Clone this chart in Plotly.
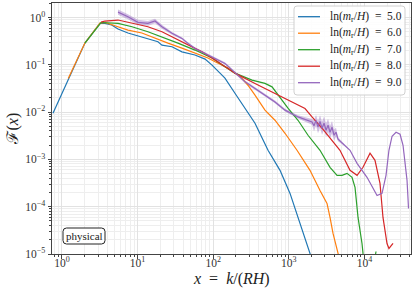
import plotly.graph_objects as go

# ---------------- data ----------------
blue_x = [0.76, 2.01, 3.18, 3.70, 4.54, 5.51, 7.46, 10.1, 13.7, 18.6, 21.0, 28.5, 38.6, 57.4, 78.0, 96.4,
          123, 143, 194, 264, 357, 531, 765, 1038, 1406, 1906, 2090]
blue_y = [0.0095, 0.288, 0.754, 0.754, 0.694, 0.571, 0.470, 0.412, 0.362, 0.307, 0.261, 0.241, 0.188, 0.161,
          0.132, 0.0986, 0.0667, 0.0523, 0.0251, 0.0121, 0.00582, 0.00156, 5.88e-4, 1.91e-4, 4.43e-5, 1.03e-5, 6.6e-6]

orange_x = [1.21, 2.01, 3.18, 3.70, 5.02, 7.46, 11.4, 17.0, 25.2, 38.6, 57.4, 85.3, 106, 157, 240, 288, 357,
            484, 656, 891, 1283, 1906, 2586, 3200, 3507, 3843, 4480, 4700]
orange_y = [0.0515, 0.288, 0.76, 0.791, 0.670, 0.543, 0.470, 0.362, 0.288, 0.226, 0.177, 0.139, 0.116, 0.0852,
            0.0523, 0.037, 0.0228, 0.0110, 0.00673, 0.00357, 0.00156, 5.88e-4, 2.21e-4, 1.17e-4, 5.93e-5,
            2.72e-5, 1.03e-5, 6.6e-6]

green_x = [2.01, 3.28, 5.51, 8.43, 13.7, 21.0, 34.2, 57.4, 96.4, 143, 194, 326, 484, 600, 720, 975, 1324,
           1795, 2586, 3507, 4345, 5055, 5888, 6855, 7513, 8230, 9290, 9580, 10500, 12600, 14230]
green_y = [0.288, 0.784, 0.754, 0.638, 0.500, 0.392, 0.288, 0.205, 0.139, 0.0907, 0.0667, 0.0474, 0.0404,
           0.0342, 0.0228, 0.0121, 0.00673, 0.00324, 0.00156, 6.81e-4, 4.60e-4, 4.60e-4, 5.08e-4, 4.18e-4,
           2.56e-4, 5.93e-5, 1.67e-5, 1.03e-5, 4.9e-6, 3.5e-6, 1.13e-5]

red_x = [3.28, 3.70, 5.51, 8.43, 13.7, 21.0, 31.2, 46.4, 71.1, 106, 143, 194, 357, 656, 1208, 1637, 2027,
         2750, 4750, 6450, 7990, 9580, 11860, 13800, 16070, 17600, 19900, 21100, 23900]
red_y = [0.80, 0.843, 0.885, 0.754, 0.638, 0.500, 0.362, 0.261, 0.188, 0.126, 0.0907, 0.0667, 0.0404, 0.0248,
         0.0152, 0.0119, 0.00791, 0.00456, 0.00156, 5.88e-4, 4.60e-4, 6.81e-4, 1.35e-3, 9.57e-4, 3.12e-4,
         5.93e-5, 1.67e-5, 1.31e-5, 1.67e-5]

purple_x = [5.51, 7.46, 10.1, 13.7, 17.0, 21.0, 28.5, 38.6, 46.4, 57.4, 78.0, 106, 143, 264, 357, 484, 656,
            891, 1324, 2027, 2153, 2290, 2432, 2586, 2750, 2924, 3108, 3304, 3507, 3725, 3963, 4207, 4480,
            6450, 7990, 10820, 12990, 14690, 17100, 19300, 21100, 23200, 26200, 29600, 32400, 34400, 36600,
            37700, 38300]
purple_y = [1.30, 1.04, 0.791, 0.754, 0.843, 0.638, 0.463, 0.362, 0.284, 0.222, 0.174, 0.137, 0.107, 0.0436,
            0.0316, 0.0228, 0.0164, 0.0110, 0.00791, 0.00620, 5.15e-3, 6.70e-3, 4.83e-3, 6.32e-3, 4.56e-3,
            5.82e-3, 4.14e-3, 5.27e-3, 3.75e-3, 4.79e-3, 3.24e-3, 3.75e-3, 2.67e-3, 1.56e-3, 8.27e-4,
            4.18e-4, 2.56e-4, 1.73e-4, 1.91e-4, 4.6e-4, 1.56e-3, 3.09e-3, 3.75e-3, 3.40e-3, 1.99e-3,
            9.57e-4, 3.61e-4, 1.50e-4, 9.2e-5]
# multiplicative half-width of the shaded uncertainty band around the purple curve
purple_err = [1.13, 1.13, 1.13, 1.12, 1.12, 1.10, 1.07, 1.06, 1.06, 1.06, 1.06, 1.06, 1.06, 1.07, 1.07, 1.07,
              1.07, 1.07, 1.08, 1.15, 1.30, 1.30, 1.35, 1.35, 1.38, 1.38, 1.38, 1.38, 1.35, 1.35, 1.30, 1.25,
              1.1, 1.0, 1.0, 1.0, 1.0, 1.0, 1.0, 1.0, 1.0, 1.0, 1.0, 1.0, 1.0, 1.0, 1.0, 1.0, 1.0]

labels = ["5.0", "6.0", "7.0", "8.0", "9.0"]
colors = ["#1f77b4", "#ff7f0e", "#2ca02c", "#d62728", "#9467bd"]

ytick_vals = [1e-5, 1e-4, 1e-3, 1e-2, 1e-1, 1]
ytick_text = ["10<sup>−5</sup>", "10<sup>−4</sup>", "10<sup>−3</sup>", "10<sup>−2</sup>", "10<sup>−1</sup>", "10<sup>0</sup>"]
xtick_vals = [1, 10, 100, 1000, 10000]
xtick_text = ["10<sup>0</sup>", "10<sup>1</sup>", "10<sup>2</sup>", "10<sup>3</sup>", "10<sup>4</sup>"]

# ---------------- figure ----------------
SERIF = "Liberation Serif, DejaVu Serif, serif"
W, H = 359.0, 251.0  # plot-area size in pixels
fig = go.Figure()

# purple uncertainty band
band_x = purple_x + purple_x[::-1]
band_y = [y * e for y, e in zip(purple_y, purple_err)] + [y / e for y, e in zip(purple_y[::-1], purple_err[::-1])]
fig.add_trace(go.Scatter(x=band_x, y=band_y, fill="toself", fillcolor="rgba(148,103,189,0.4)",
                         line=dict(width=0), mode="lines", showlegend=False, hoverinfo="skip"))

names = ["ln(<i>m</i><sub>r</sub>/<i>H</i>)\u2002=\u2002" + lab for lab in labels]
series = [(blue_x, blue_y), (orange_x, orange_y), (green_x, green_y), (red_x, red_y), (purple_x, purple_y)]
for (xs, ys), name, col in zip(series, names, colors):
    fig.add_trace(go.Scatter(x=xs, y=ys, mode="lines", line=dict(color=col, width=1.2),
                             name=name, showlegend=False))

axis_common = dict(
    type="log", showline=True, linecolor="#444", linewidth=1, mirror=True, automargin=False,
    ticks="outside", ticklen=3.5, tickcolor="#444",
    showgrid=True, gridcolor="#e2e2e2", gridwidth=1, zeroline=False,
    tickfont=dict(family=SERIF, size=11.5, color="#333"),
    minor=dict(dtick="D1", showgrid=True, gridcolor="#eeeeee", ticks="outside", ticklen=2, tickcolor="#444"),
)

fig.update_layout(
    width=415, height=290,
    margin=dict(l=52, r=4, t=3, b=36),
    plot_bgcolor="white", paper_bgcolor="white",
    font=dict(family=SERIF, color="#222"),
    showlegend=False,
    xaxis=dict(axis_common, range=[-0.132, 4.616], tickvals=xtick_vals, ticktext=xtick_text,
               ticklabelstandoff=-5),
    yaxis=dict(axis_common, range=[-5, 0.307], tickvals=ytick_vals, ticktext=ytick_text),
)

# axis titles as annotations (fixed positions)
fig.add_annotation(x=0.5, y=-25 / H, xref="paper", yref="paper", xanchor="center", yanchor="middle",
                   text="<i>x</i>\u2002=\u2002<i>k</i>/(<i>RH</i>)", showarrow=False,
                   font=dict(family=SERIF, size=16, color="#222"))
fig.add_annotation(x=-40 / W, y=0.5, xref="paper", yref="paper", xanchor="center", yanchor="middle",
                   text="ℱ(<i>x</i>)", textangle=-90, showarrow=False,
                   font=dict(family=SERIF, size=16, color="#222"))


def rounded_box(px0, px1, py0, py1, r, line_color, fill):
    """Rounded rectangle given in plot-area pixels (origin bottom-left)."""
    x0, x1, y0, y1 = px0 / W, px1 / W, py0 / H, py1 / H
    rx, ry = r / W, r / H
    path = (f"M {x0+rx},{y0} L {x1-rx},{y0} Q {x1},{y0} {x1},{y0+ry} L {x1},{y1-ry} Q {x1},{y1} {x1-rx},{y1} "
            f"L {x0+rx},{y1} Q {x0},{y1} {x0},{y1-ry} L {x0},{y0+ry} Q {x0},{y0} {x0+rx},{y0} Z")
    fig.add_shape(type="path", path=path, xref="paper", yref="paper",
                  line=dict(color=line_color, width=1), fillcolor=fill)


# "physical" label box
rounded_box(11.0, 53.0, 10.0, 26.0, 3.5, "#222", "white")
fig.add_annotation(x=32.0 / W, y=18.0 / H, xref="paper", yref="paper", text="physical",
                   xanchor="center", yanchor="middle", showarrow=False,
                   font=dict(family=SERIF, size=11, color="#222"))

# legend drawn by hand (matplotlib-like spacing)
rounded_box(242.0, 353.0, 159.0, 248.0, 3.0, "#d0d0d0", "rgba(255,255,255,0.85)")
for i, (name, col) in enumerate(zip(names, colors)):
    yy = (237.3 - 16.5 * i) / H
    fig.add_shape(type="line", xref="paper", yref="paper", x0=246.0 / W, x1=268.0 / W, y0=yy, y1=yy,
                  line=dict(color=col, width=1.3))
    fig.add_annotation(x=276.0 / W, y=yy, xref="paper", yref="paper", xanchor="left", yanchor="middle",
                       text=name, showarrow=False, font=dict(family=SERIF, size=11.5, color="#222"))

fig.write_html("out.html", config={"displayModeBar": False},
               post_script="document.body.style.margin='0';")
